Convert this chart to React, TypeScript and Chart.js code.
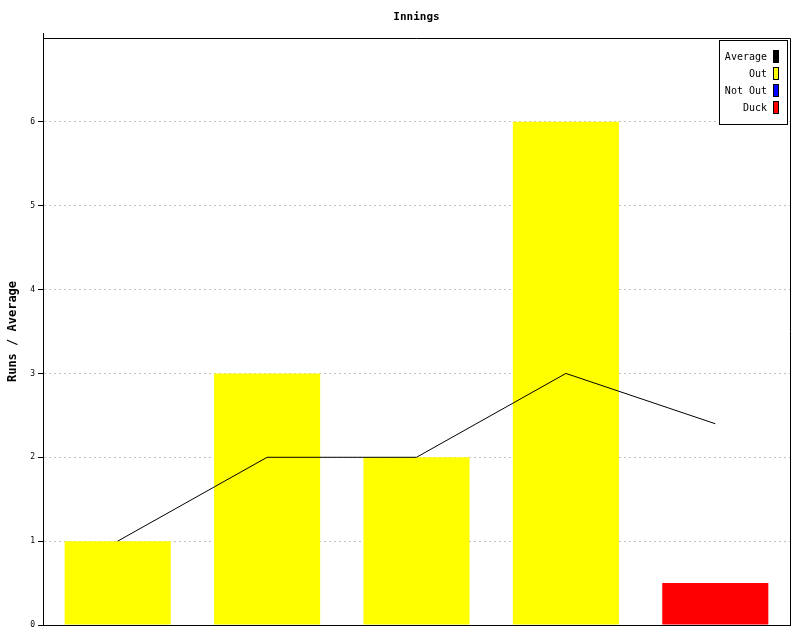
import React, { useEffect, useRef } from "react";
import { Chart, registerables } from "chart.js";
Chart.register(...registerables);

const categories = ["1", "2", "3", "4", "5"];
const outRuns: (number | null)[] = [1, 3, 2, 6, null];
const notOutRuns: (number | null)[] = [null, null, null, null, null];
const duckRuns: (number | null)[] = [null, null, null, null, 0.5];
const average = [1, 2, 2, 3, 2.4];
const yMax = 7;
const titleText = "Innings";
const yAxisTitle = "Runs / Average";
const legendLabels = ["Average", "Out", "Not Out", "Duck"];
const legendColors = ["#000000", "#ffff00", "#0000ff", "#ff0000"];

const MONO = "'DejaVu Sans Mono', monospace";

const decorPlugin = {
  id: "decor",
  afterDraw(chart: any) {
    const { ctx, chartArea } = chart;
    const { left, right, top, bottom } = chartArea;
    ctx.save();
    // frame top/right + axis extension
    ctx.strokeStyle = "#000";
    ctx.lineWidth = 1;
    ctx.setLineDash([]);
    ctx.beginPath();
    ctx.moveTo(Math.round(left) + 0.5, top - 5);
    ctx.lineTo(Math.round(left) + 0.5, top);
    ctx.moveTo(left, Math.round(top) + 0.5);
    ctx.lineTo(Math.round(right) + 0.5, Math.round(top) + 0.5);
    ctx.lineTo(Math.round(right) + 0.5, bottom);
    ctx.stroke();

    // title
    ctx.fillStyle = "#000";
    ctx.font = `bold 11px ${MONO}`;
    ctx.textAlign = "center";
    ctx.textBaseline = "middle";
    ctx.fillText(titleText, (left + right) / 2, 17);

    // y axis title
    ctx.save();
    ctx.translate(13, (top + bottom) / 2);
    ctx.rotate(-Math.PI / 2);
    ctx.font = `bold 12px ${MONO}`;
    ctx.textAlign = "center";
    ctx.textBaseline = "middle";
    ctx.fillText(yAxisTitle, 0, 0);
    ctx.restore();

    // legend
    const bx = Math.round(right) - 71;
    const by = Math.round(top) + 2;
    const bw = 68;
    const bh = 84;
    ctx.fillStyle = "#fff";
    ctx.fillRect(bx, by, bw, bh);
    ctx.strokeStyle = "#000";
    ctx.strokeRect(bx + 0.5, by + 0.5, bw, bh);
    ctx.font = `10px ${MONO}`;
    ctx.textAlign = "right";
    ctx.textBaseline = "middle";
    legendLabels.forEach((lab, i) => {
      const cy = by + 16 + i * 17;
      ctx.fillStyle = "#000";
      ctx.fillText(lab, bx + 48, cy + 1);
      ctx.fillStyle = legendColors[i];
      ctx.fillRect(bx + 54, cy - 6, 6, 13);
      ctx.strokeStyle = "#000";
      ctx.strokeRect(bx + 54.5, cy - 5.5, 5, 12);
    });
    ctx.restore();
  },
};

export default function App() {
  const ref = useRef<HTMLCanvasElement | null>(null);
  useEffect(() => {
    if (!ref.current) return;
    const chart = new Chart(ref.current, {
      type: "bar",
      data: {
        labels: categories,
        datasets: [
          {
            type: "line",
            label: "Average",
            data: average,
            borderColor: "#000",
            borderWidth: 1,
            pointRadius: 0,
            tension: 0,
            fill: false,
            order: 0,
          } as any,
          {
            label: "Out",
            data: outRuns,
            backgroundColor: "#ffff00",
            grouped: false,
            barPercentage: 0.71,
            categoryPercentage: 1,
            order: 1,
          },
          {
            label: "Not Out",
            data: notOutRuns,
            backgroundColor: "#0000ff",
            grouped: false,
            barPercentage: 0.71,
            categoryPercentage: 1,
            order: 1,
          },
          {
            label: "Duck",
            data: duckRuns,
            backgroundColor: "#ff0000",
            grouped: false,
            barPercentage: 0.71,
            categoryPercentage: 1,
            order: 1,
          },
        ],
      },
      options: {
        responsive: false,
        animation: false,
        devicePixelRatio: 1,
        layout: { padding: { top: 38, right: 10, bottom: 15, left: 0 } },
        plugins: {
          legend: { display: false },
          title: { display: false },
          tooltip: { enabled: false },
        },
        scales: {
          x: {
            ticks: { display: false },
            grid: { display: false, drawTicks: false },
            border: { color: "#000", width: 1 },
            afterFit: (s: any) => {
              s.height = 0;
            },
          },
          y: {
            min: 0,
            max: yMax,
            ticks: {
              stepSize: 1,
              color: "#000",
              font: { family: MONO, size: 8 },
              padding: 3,
              callback: (v: any) => (v === yMax ? "" : String(v)),
            },
            grid: {
              color: (c: any) => (c.tick && c.tick.value === yMax ? "rgba(0,0,0,0)" : "#c0c0c0"),
              tickColor: (c: any) => (c.tick && c.tick.value === yMax ? "rgba(0,0,0,0)" : "#000"),
              tickLength: 5,
              tickBorderDash: [],
            } as any,
            border: { color: "#000", width: 1, dash: [2, 3] },
            afterFit: (s: any) => {
              s.width = 43;
            },
          },
        },
      } as any,
      plugins: [decorPlugin],
    });
    return () => chart.destroy();
  }, []);
  return (
    <div style={{ position: "absolute", left: 0, top: 0, width: 800, height: 640, background: "#fff" }}>
      <canvas ref={ref} width={800} height={640} style={{ display: "block" }} />
    </div>
  );
}
